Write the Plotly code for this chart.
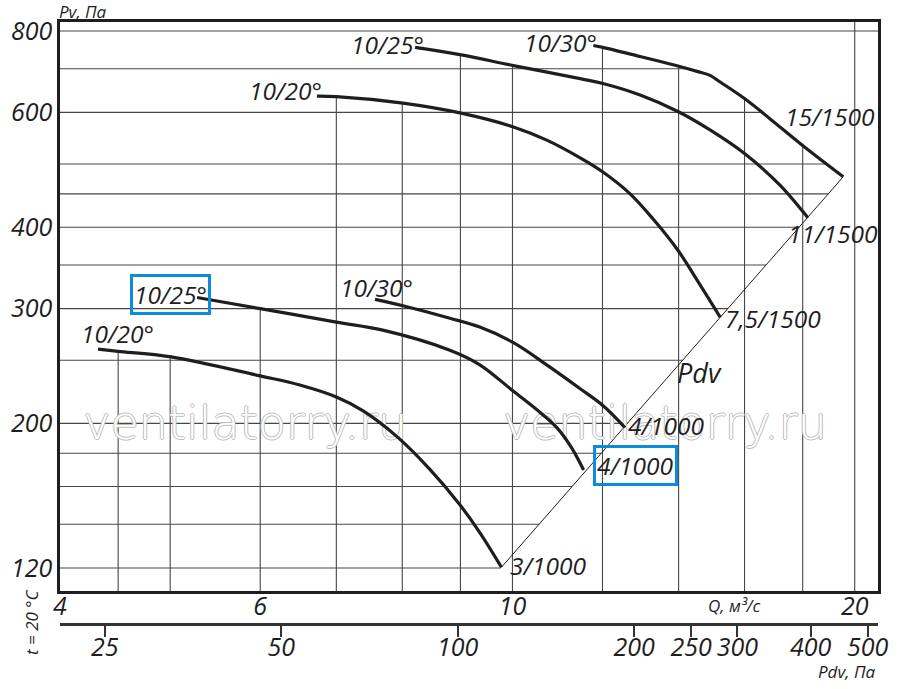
import numpy as np
import plotly.graph_objects as go

# fan curves: Q in m3/s, Pv in Pa
# 1000 rpm
q_1000_20 = [4.32, 4.5, 5.01, 6.0, 6.5, 7.0, 7.39, 7.91, 8.46, 8.99, 9.36, 9.78]
pv_1000_20 = [260, 258, 253, 236.5, 229, 219.5, 209, 191, 170, 150, 136, 120.3]
q_1000_25 = [5.28, 6.0, 7.0, 7.69, 8.81, 9.36, 10.02, 10.57, 10.94, 11.26, 11.55]
pv_1000_25 = [312, 300, 286, 278, 259, 246, 224, 208, 197, 184, 169.6]
q_1000_30 = [7.57, 8.01, 8.81, 9.36, 10.02, 10.75, 11.47, 12.01, 12.56]
pv_1000_30 = [310, 303, 290, 281, 266, 245, 226, 213, 197]
# 1500 rpm
q_1500_20 = [6.73, 7.0, 8.01, 8.99, 10.02, 10.72, 11.47, 12.01, 12.69, 13.29, 13.99, 14.53, 15.23]
pv_1500_20 = [635.5, 634.5, 620, 599, 570, 544, 511, 486, 450, 412, 368, 332, 291]
q_1500_25 = [8.21, 8.99, 10.02, 11.47, 12.01, 12.95, 13.98, 14.92, 16.02, 17.19, 18.02, 18.19]
pv_1500_25 = [755, 736, 708, 676, 664.5, 638, 602, 564, 518, 464, 422, 413.5]
q_1500_30 = [11.78, 12.01, 12.95, 13.98, 14.56, 14.92, 15.23, 16.02, 17.19, 18.02, 19.54]
pv_1500_30 = [760, 755, 731, 707, 693, 684, 668, 629, 570, 533, 478]

q_ticks = [4, 6, 10, 20]
pv_ticks = [120, 200, 300, 400, 600, 800]
pdv_ticks = [25, 50, 100, 200, 250, 300, 400, 500]
q_grid = [4.5, 5, 6, 7, 8, 9, 10, 12, 14, 16, 18, 20]
pv_grid = [120, 140, 160, 180, 200, 250, 300, 350, 400, 450, 500, 600, 700, 800]

curves = [
    (q_1000_20, pv_1000_20), (q_1000_25, pv_1000_25), (q_1000_30, pv_1000_30),
    (q_1500_20, pv_1500_20), (q_1500_25, pv_1500_25), (q_1500_30, pv_1500_30),
]

FONT = "Open Sans"
INK = "#1e1e1e"
BLUE = "#0a8bdc"

# axis ranges (log10)
x_rng = [np.log10(4), np.log10(4) + 818 / 1137]
y_rng = [2.0438, 2.9169]
pdv_rng = [1.3216, 2.7168]

# dynamic pressure line joins the curve ends
q_pdv = [q_1000_20[-1], q_1500_30[-1]]
p_pdv = [pv_1000_20[-1], pv_1500_30[-1]]
pdv_k = (np.log10(p_pdv[1]) - np.log10(p_pdv[0])) / (np.log10(q_pdv[1]) - np.log10(q_pdv[0]))


def top_at(q):
    tops = []
    for qs, ps in curves:
        if qs[0] <= q <= qs[-1]:
            tops.append(np.interp(np.log10(q), np.log10(qs), np.log10(ps)))
    return 10 ** max(tops) if tops else 10 ** y_rng[1]


def right_at(p):
    rights = []
    for qs, ps in curves:
        if min(ps) <= p <= max(ps):
            rights.append(np.interp(np.log10(p), np.log10(ps[::-1]), np.log10(qs[::-1])))
    if p <= p_pdv[1]:
        rights.append(np.log10(q_pdv[0]) + (np.log10(p) - np.log10(p_pdv[0])) / pdv_k)
    return 10 ** max(rights) if rights else 10 ** x_rng[1]


gx, gy = [], []
for q in q_grid:
    gx += [q, q, None]
    gy += [10 ** y_rng[0], top_at(q), None]
for p in pv_grid:
    gx += [10 ** x_rng[0], right_at(p), None]
    gy += [p, p, None]

fig = go.Figure()
fig.add_trace(go.Scatter(x=gx, y=gy, mode="lines", line=dict(color="#474747", width=1.1),
                         hoverinfo="skip", showlegend=False))
fig.add_trace(go.Scatter(x=q_pdv, y=p_pdv, mode="lines", line=dict(color=INK, width=1),
                         hoverinfo="skip", showlegend=False))

# watermark
outline = "1px 0 0 #bdbdbd, -1px 0 0 #bdbdbd, 0 1px 0 #bdbdbd, 0 -1px 0 #bdbdbd"
fig.add_trace(go.Scatter(x=[5.82, 13.62], y=[197, 197], mode="text",
                         text=["ventilatorry.ru", "ventilatorry.ru"],
                         textfont=dict(family="DejaVu Sans", size=46, weight=200,
                                       color="white", shadow=outline),
                         hoverinfo="skip", showlegend=False))

for qs, ps in curves:
    fig.add_trace(go.Scatter(x=qs, y=ps, mode="lines",
                             line=dict(color=INK, width=3.2, shape="spline", smoothing=1.0),
                             hoverinfo="skip", showlegend=False))

# dummy trace so the Pdv scale is drawn
fig.add_trace(go.Scatter(x=pdv_ticks, y=[130] * len(pdv_ticks), xaxis="x2", mode="markers",
                         marker=dict(opacity=0), hoverinfo="skip", showlegend=False))

# curve labels: (text, curve, 0 start / -1 end, xshift, yshift, boxed)
labels = [
    ("10/20°", 0, 0, 19, 16, False),
    ("10/25°", 1, 0, -27, 3, True),
    ("10/30°", 2, 0, 2, 12, False),
    ("10/20°", 3, 0, -31, 6, False),
    ("10/25°", 4, 0, -28, 3, False),
    ("10/30°", 5, 0, -33, 3, False),
    ("3/1000", 0, -1, 47, 2, False),
    ("4/1000", 1, -1, 52, 5, True),
    ("4/1000", 2, -1, 41, 2, False),
    ("7,5/1500", 3, -1, 53, -1, False),
    ("11/1500", 4, -1, 25, -16, False),
    ("15/1500", 5, -1, -13, 60, False),
]
ann = []
for text, ci, end, dx, dy, boxed in labels:
    qs, ps = curves[ci]
    a = dict(text=text, x=np.log10(qs[end]), y=np.log10(ps[end]), xref="x", yref="y",
             xanchor="center", yanchor="middle", showarrow=False, xshift=dx, yshift=dy,
             font=dict(family=FONT, size=24.5, color=INK, style="italic"))
    if boxed:
        a.update(bordercolor=BLUE, borderwidth=3, borderpad=1)
    ann.append(a)

notes = [
    ("Pdv", 0.7812, 0.4402, 0, 27),
    ("Pv, Па", 0.0281, 1.0175, 0, 17),
    ("Q, м³/с", 0.8246, 0.0691, 0, 17),
    ("Pdv, Па", 0.9615, -0.0365, 0, 17),
    ("t = 20 °C", -0.0342, 0.0431, -90, 17),
]
for text, x, y, ang, size in notes:
    ann.append(dict(text=text, x=x, y=y, xref="paper", yref="paper", xanchor="center",
                    yanchor="middle", showarrow=False, textangle=ang,
                    font=dict(family=FONT, size=size, color=INK, style="italic")))

tick_font = dict(family=FONT, size=25, color=INK, style="italic")
fig.update_layout(
    width=900, height=689,
    margin=dict(l=60, r=22, t=22, b=40, autoexpand=False),
    paper_bgcolor="white", plot_bgcolor="white",
    annotations=ann,
    xaxis=dict(type="log", range=x_rng, tickvals=q_ticks, ticktext=[str(v) for v in q_ticks],
               showgrid=False, zeroline=False, showline=True, mirror=True, automargin=False,
               linecolor=INK, linewidth=2.5, ticks="", tickfont=tick_font,
               ticklabelstandoff=-9),
    yaxis=dict(type="log", range=y_rng, domain=[0.0925, 1], tickvals=pv_ticks,
               ticktext=[str(v) for v in pv_ticks], showgrid=False, zeroline=False,
               showline=True, mirror=True, linecolor=INK, linewidth=2.5, ticks="",
               automargin=False, tickfont=tick_font),
    xaxis2=dict(type="log", range=pdv_rng, overlaying="x", anchor="free", position=0.0399,
                side="bottom", tickvals=pdv_ticks, ticktext=[str(v) for v in pdv_ticks],
                showgrid=False, zeroline=False, showline=True, linecolor="#333",
                linewidth=2.5, ticks="outside", ticklen=11, tickwidth=1.5, tickcolor="#333",
                automargin=False, tickfont=tick_font, ticklabelstandoff=-11),
)

# page body has a default 8px margin; drop it so the figure sits at the window origin
fig.write_html("out.html", config={"displayModeBar": False},
               post_script="document.body.style.margin='0';")
